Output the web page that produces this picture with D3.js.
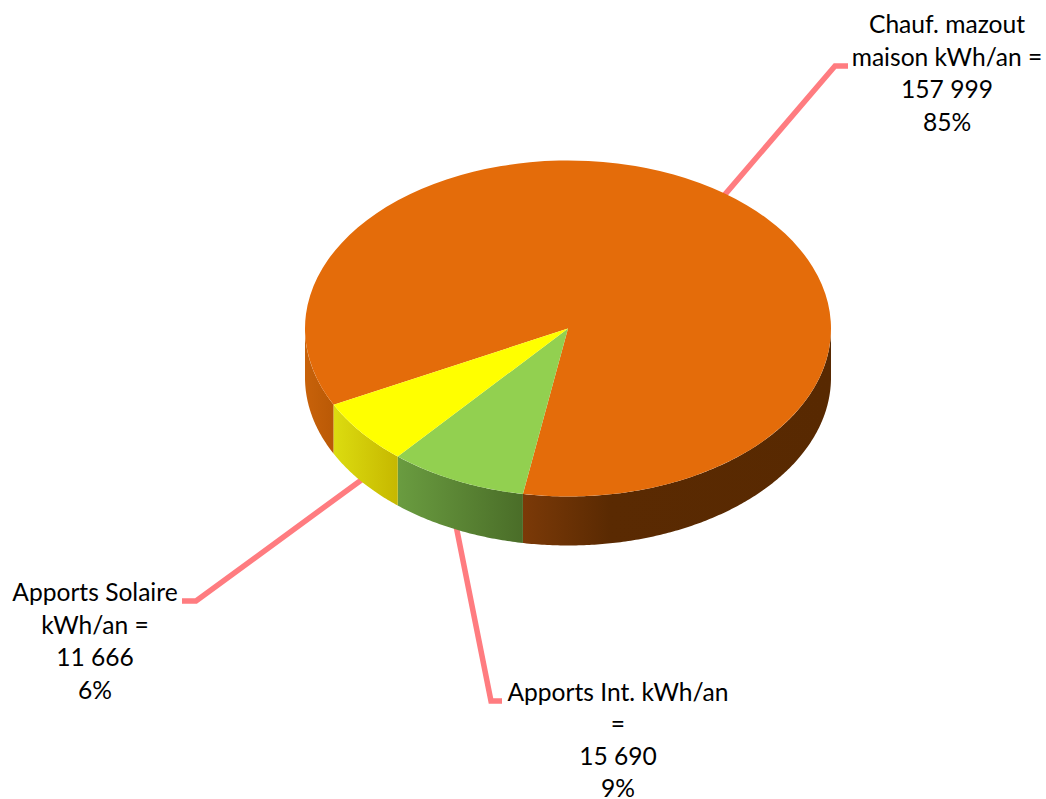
<!DOCTYPE html>
<html>
<head>
<meta charset="utf-8">
<script src="https://cdnjs.cloudflare.com/ajax/libs/d3/7.8.5/d3.min.js"></script>
<style>
  body { margin: 0; background: #ffffff; }
  svg { display: block; }
  .label { font-family: Lato, "Open Sans", sans-serif; font-size: 24.6px; fill: #000000; text-anchor: middle; }
  .leader { fill: none; stroke: #ff7c80; stroke-width: 5.5px; }
</style>
</head>
<body>
<div id="chart"></div>
<script>
const categories = ['Chauf. mazout maison kWh/an =', 'Apports Int. kWh/an =', 'Apports Solaire kWh/an ='];
const categoryLines = [['Chauf. mazout', 'maison kWh/an ='], ['Apports Int. kWh/an', '='], ['Apports Solaire', 'kWh/an =']];
const values = [157999, 15690, 11666];
const percents = ['85%', '9%', '6%'];

const width = 1046,
  height = 799;
const cx = 568,
  cy = 328.5,
  rx = 263,
  ry = 168,
  depth = 49;
const START_ANGLE = (243 * Math.PI) / 180;
const FRONT_FROM = Math.PI / 2,
  FRONT_TO = (3 * Math.PI) / 2;

const topColors = ['#e46c0a', '#92d050', '#ffff00'];
const sideStops = [
  [[0, '#c8620a'], [0.05, '#bb5a06'], [0.41, '#7c3a08'], [0.58, '#5a2a02'], [1, '#582901']],
  [[0, '#6a9c40'], [1, '#4a6d28']],
  [[0, '#dcdc10'], [1, '#c6b800']],
];
// label anchor: elbow and end of the leader, centre of the text, first baseline
const labelLayout = [
  { elbow: [835, 66], end: [848, 66], x: 947, y: 33, dy: 32.7 },
  { elbow: [491, 701], end: [502, 701], x: 618, y: 701, dy: 32 },
  { elbow: [196, 601], end: [182, 601], x: 95, y: 601, dy: 32.5 },
];

const fmtValue = (v) => d3.format(',')(v).replace(/,/g, ' ');

const svg = d3.select('#chart').append('svg').attr('width', width).attr('height', height);

const pie = d3.pie().sort(null).startAngle(START_ANGLE).endAngle(START_ANGLE + 2 * Math.PI);
const slices = pie(values);

const px = (a) => cx + rx * Math.sin(a);
const py = (a) => cy - ry * Math.cos(a);
const norm = (a) => ((a % (2 * Math.PI)) + 2 * Math.PI) % (2 * Math.PI);

// gradients for the side walls
const defs = svg.append('defs');
const sideExtent = [[cx - rx, cx + rx], [px(slices[1].startAngle), px(slices[1].endAngle)], [px(slices[2].startAngle), px(slices[2].endAngle)]];
sideStops.forEach((stops, i) => {
  const x = sideExtent[i].slice().sort(d3.ascending);
  const grad = defs
    .append('linearGradient')
    .attr('id', `side-${i}`)
    .attr('gradientUnits', 'userSpaceOnUse')
    .attr('x1', x[0])
    .attr('x2', x[1])
    .attr('y1', 0)
    .attr('y2', 0);
  // green and yellow run left to right on screen
  grad
    .selectAll('stop')
    .data(stops)
    .join('stop')
    .attr('offset', (d) => d[0])
    .attr('stop-color', (d) => d[1]);
});

// leaders go under the pie
const leader = d3.line();
slices.forEach((s, i) => {
  const mid = norm((s.startAngle + s.endAngle) / 2);
  const front = mid > FRONT_FROM && mid < FRONT_TO;
  const from = [px(mid), py(mid) + (front ? depth - 2 : 2)];
  svg.append('path').attr('class', 'leader').attr('d', leader([from, labelLayout[i].elbow, labelLayout[i].end]));
});

// side walls: parts of each slice's rim facing the viewer
const wall = d3
  .area()
  .x((a) => px(a))
  .y0((a) => py(a))
  .y1((a) => py(a) + depth);

function frontRanges(s) {
  const out = [];
  [0, 2 * Math.PI].forEach((turn) => {
    const lo = Math.max(s.startAngle, FRONT_FROM + turn);
    const hi = Math.min(s.endAngle, FRONT_TO + turn);
    if (hi > lo) out.push([lo, hi]);
  });
  return out;
}

slices.forEach((s, i) => {
  frontRanges(s).forEach(([lo, hi]) => {
    const steps = d3.range(lo, hi, 0.01).concat(hi);
    svg.append('path').attr('d', wall(steps)).attr('fill', `url(#side-${i})`);
  });
});

// top face: d3.arc squashed into an ellipse
const arc = d3.arc().innerRadius(0).outerRadius(rx);
svg
  .append('g')
  .attr('transform', `translate(${cx},${cy}) scale(1,${ry / rx})`)
  .selectAll('path')
  .data(slices)
  .join('path')
  .attr('d', arc)
  .attr('fill', (d, i) => topColors[i]);

// labels
categories.forEach((c, i) => {
  const lines = categoryLines[i].concat(fmtValue(values[i]), percents[i]);
  const { x, y, dy } = labelLayout[i];
  svg
    .append('g')
    .selectAll('text')
    .data(lines)
    .join('text')
    .attr('class', 'label')
    .attr('x', x)
    .attr('y', (d, j) => y + j * dy)
    .text((d) => d);
});
</script>
</body>
</html>
